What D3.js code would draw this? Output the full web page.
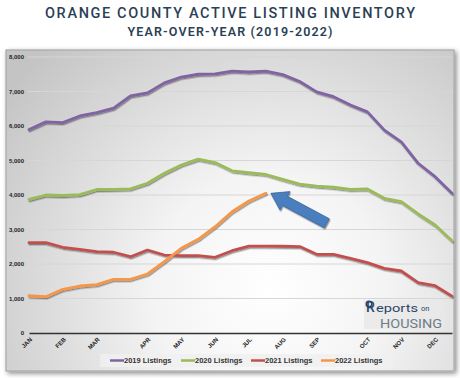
<!DOCTYPE html>
<html><head><meta charset="utf-8">
<script src="https://cdn.jsdelivr.net/npm/d3@7"></script>
<style>
html,body{margin:0;padding:0;background:#fff;}
svg{display:block;}
</style></head>
<body>
<script>
// ---- data ----
const xLabels = ["JAN","","FEB","","MAR","","","APR","","MAY","","JUN","","JUL","","AUG","","SEP","","","OCT","","NOV","","DEC",""];
const yTicks = [0,1000,2000,3000,4000,5000,6000,7000,8000];
const seriesNames = ["2019 Listings","2020 Listings","2021 Listings","2022 Listings"];
const seriesColors = ["#8064a2","#9bbb59","#c0504d","#f79646"];
const listings2019 = [5900,6120,6100,6290,6390,6520,6870,6960,7250,7420,7500,7510,7590,7565,7590,7490,7290,6990,6850,6610,6410,5880,5540,4920,4530,4050];
const listings2020 = [3875,4000,3985,4010,4160,4165,4180,4340,4630,4870,5040,4940,4700,4645,4595,4455,4315,4260,4225,4165,4175,3905,3805,3450,3130,2675];
const listings2021 = [2617,2617,2485,2425,2357,2340,2212,2405,2260,2240,2240,2195,2385,2520,2520,2515,2505,2280,2280,2165,2040,1875,1797,1458,1370,1070];
const listings2022 = [1080,1052,1267,1362,1400,1557,1557,1710,2067,2455,2716,3081,3516,3826,4049];
const allSeries = [listings2019, listings2020, listings2021, listings2022];

const W = 460, H = 378;
const svg = d3.select("body").append("svg").attr("width", W).attr("height", H);
const defs = svg.append("defs");

const bg = defs.append("radialGradient").attr("id","bgGrad")
  .attr("gradientUnits","userSpaceOnUse").attr("cx",270).attr("cy",290).attr("r",330);
bg.append("stop").attr("offset","0%").attr("stop-color","#ffffff");
bg.append("stop").attr("offset","35%").attr("stop-color","#f4f4f4");
bg.append("stop").attr("offset","100%").attr("stop-color","#c4c4c4");

const fs = defs.append("filter").attr("id","frameShadow").attr("x","-5%").attr("y","-5%").attr("width","110%").attr("height","112%");
fs.append("feDropShadow").attr("dx",2).attr("dy",2).attr("stdDeviation",2.5).attr("flood-color","#000").attr("flood-opacity",0.45);

const ls = defs.append("filter").attr("id","lineShadow").attr("x","-5%").attr("y","-10%").attr("width","110%").attr("height","130%");
ls.append("feDropShadow").attr("dx",0.8).attr("dy",1.4).attr("stdDeviation",0.7).attr("flood-color","#000").attr("flood-opacity",0.4);

// ---- titles ----
svg.append("text").attr("x",230).attr("y",18).attr("text-anchor","middle")
  .attr("font-family","Roboto").attr("font-weight",500).attr("font-size",14.5)
  .attr("fill","#2b3f55").attr("textLength",370).attr("lengthAdjust","spacing")
  .text("ORANGE COUNTY ACTIVE LISTING INVENTORY");
svg.append("text").attr("x",230).attr("y",36).attr("text-anchor","middle")
  .attr("font-family","Roboto").attr("font-weight",600).attr("font-size",12.5)
  .attr("fill","#2b3f55").attr("textLength",205).attr("lengthAdjust","spacing")
  .text("YEAR-OVER-YEAR (2019-2022)");

// ---- frame ----
svg.append("rect").attr("x",6).attr("y",50).attr("width",448).attr("height",321)
  .attr("fill","url(#bgGrad)").attr("stroke","#a8a8a8").attr("stroke-width",1.2)
  .attr("filter","url(#frameShadow)");

// ---- scales ----
const x = d3.scalePoint().domain(d3.range(xLabels.length)).range([29,452]);
const y = d3.scaleLinear().domain([0,8000]).range([333,57]);

// grid
svg.append("g").selectAll("line").data(yTicks.filter(d=>d>0)).join("line")
  .attr("x1",28).attr("x2",453).attr("y1",d=>y(d)).attr("y2",d=>y(d))
  .attr("stroke","#d6d6d6").attr("stroke-width",1);

// y axis labels
const yAxis = d3.axisLeft(y).tickValues(yTicks).tickSize(0).tickPadding(0).tickFormat(d3.format(","));
const yg = svg.append("g").attr("transform","translate(24,0)").call(yAxis);
yg.select(".domain").remove();
yg.selectAll("text").attr("font-family","Liberation Sans, Arial").attr("font-weight","bold")
  .attr("font-size",6).attr("fill","#222");

// x axis
const xAxis = d3.axisBottom(x).tickSize(0).tickPadding(0).tickFormat(i=>xLabels[i]);
const xg = svg.append("g").attr("transform","translate(0,333)").call(xAxis);
xg.select(".domain").attr("stroke","#333").attr("stroke-width",1.3);
xg.selectAll("text").attr("font-family","Liberation Sans, Arial").attr("font-weight","bold")
  .attr("font-size",6).attr("fill","#222")
  .attr("text-anchor","end").attr("dy",0).attr("y",0)
  .attr("transform","translate(3,7) rotate(-45)");

// logo
const logo = svg.append("g");
logo.append("rect").attr("x",364).attr("y",300).attr("width",80).attr("height",29).attr("fill","#e9e9e9").attr("opacity",0.8);
logo.append("circle").attr("cx",369).attr("cy",304).attr("r",2.8).attr("fill","none").attr("stroke","#2b4566").attr("stroke-width",1.4);
logo.append("text").attr("x",366).attr("y",312).attr("font-family","Roboto").attr("font-size",14).attr("font-weight",500).attr("fill","#2b4566").text("R");
logo.append("text").attr("x",376).attr("y",311.5).attr("font-family","Roboto").attr("font-size",11.5).attr("fill","#2b4566")
  .attr("textLength",42).attr("lengthAdjust","spacingAndGlyphs").text("eports");
logo.append("text").attr("x",421).attr("y",311).attr("font-family","Roboto").attr("font-size",7.5).attr("fill","#2b4566").text("on");
logo.append("text").attr("x",380).attr("y",328).attr("font-family","Roboto").attr("font-size",13.5).attr("fill","#6f7c86").attr("textLength",62).attr("lengthAdjust","spacingAndGlyphs").text("HOUSING");

// lines
const line = d3.line().x((d,i)=>x(i)).y(d=>y(d)).curve(d3.curveLinear);
svg.append("g").attr("filter","url(#lineShadow)").selectAll("path").data(allSeries).join("path")
  .attr("d",line).attr("fill","none").attr("stroke",(d,i)=>seriesColors[i])
  .attr("stroke-width",2.8).attr("stroke-linejoin","round").attr("stroke-linecap","round");

// arrow pointing to the end of the 2022 line
const tipIdx = listings2022.length - 1;
const tip = [x(tipIdx) + 5, y(listings2022[tipIdx])];
const tail = [tip[0] + 56, tip[1] + 30];
const dx = tail[0]-tip[0], dy = tail[1]-tip[1], L = Math.hypot(dx,dy);
const ux = dx/L, uy = dy/L, px = -uy, py = ux;
const headLen = 16, headW = 10.5, shaftW = 5.2;
const hb = [tip[0]+ux*headLen, tip[1]+uy*headLen];
const pts = [
  tip,
  [hb[0]+px*headW, hb[1]+py*headW],
  [hb[0]+px*shaftW, hb[1]+py*shaftW],
  [tail[0]+px*shaftW, tail[1]+py*shaftW],
  [tail[0]-px*shaftW, tail[1]-py*shaftW],
  [hb[0]-px*shaftW, hb[1]-py*shaftW],
  [hb[0]-px*headW, hb[1]-py*headW]
];
svg.append("polygon").attr("points",pts.map(p=>p.join(",")).join(" "))
  .attr("fill","#4a7ebf").attr("stroke","#3a6597").attr("stroke-width",0.8)
  .attr("filter","url(#lineShadow)");

// legend
const lg = svg.append("g");
lg.append("rect").attr("x",100).attr("y",354).attr("width",293).attr("height",13).attr("fill","#f0f0f0").attr("opacity",0.85);
const legX = [110,181,251,321];
seriesNames.forEach((n,i)=>{
  lg.append("line").attr("x1",legX[i]).attr("x2",legX[i]+14).attr("y1",360.5).attr("y2",360.5)
    .attr("stroke",seriesColors[i]).attr("stroke-width",2.5);
  lg.append("text").attr("x",legX[i]+14).attr("y",363).attr("font-family","Liberation Sans, Arial")
    .attr("font-weight","bold").attr("font-size",7.5).attr("fill","#333").text(n);
});
</script>
</body></html>
